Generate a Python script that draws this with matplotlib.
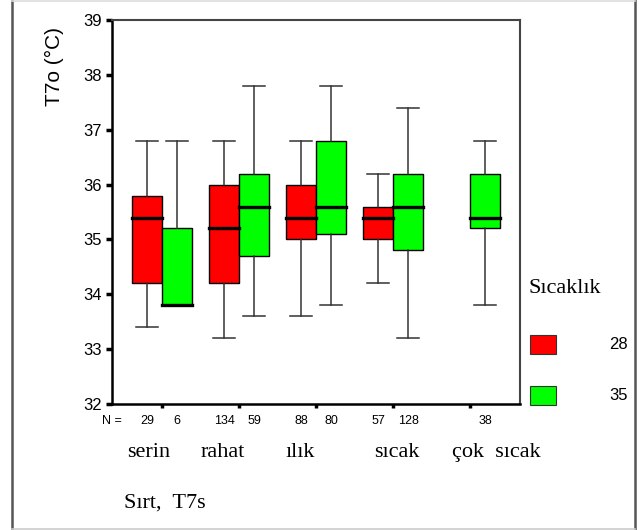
import matplotlib.pyplot as plt
from matplotlib.patches import Rectangle
from matplotlib.lines import Line2D

plt.rcParams['font.family'] = ['Liberation Sans', 'DejaVu Sans']

# kategoriler ve seri adları
categories = ["serin", "rahat", "ılık", "sıcak", "çok  sıcak"]
series = ["28", "35"]
colors = ["#ff0000", "#00ff00"]

# kutu istatistikleri (None = veri yok)
whislo = [[33.4, 33.2, 33.6, 34.2, None],
          [33.8, 33.6, 33.8, 33.2, 33.8]]
q1     = [[34.2, 34.2, 35.0, 35.0, None],
          [33.8, 34.7, 35.1, 34.8, 35.2]]
med    = [[35.4, 35.2, 35.4, 35.4, None],
          [33.8, 35.6, 35.6, 35.6, 35.4]]
q3     = [[35.8, 36.0, 36.0, 35.6, None],
          [35.2, 36.2, 36.8, 36.2, 36.2]]
whishi = [[36.8, 36.8, 36.8, 36.2, None],
          [36.8, 37.8, 37.8, 37.4, 36.8]]
counts = [[29, 134, 88, 57, None],
          [6, 59, 80, 128, 38]]

yticks = [32, 33, 34, 35, 36, 37, 38, 39]

fig = plt.figure(figsize=(6.39, 5.30), dpi=100)
ax = fig.add_axes([0.1753, 0.2377, 0.6385, 0.7245])

width = 0.39
offsets = [-0.195, 0.195]
for s in range(2):
    stats, pos = [], []
    for i in range(len(categories)):
        if med[s][i] is None:
            continue
        stats.append(dict(med=med[s][i], q1=q1[s][i], q3=q3[s][i],
                          whislo=whislo[s][i], whishi=whishi[s][i], fliers=[]))
        pos.append(i + 1 + offsets[s])
        ax.text(i + 1 + offsets[s], -0.044, str(counts[s][i]),
                transform=ax.get_xaxis_transform(), ha='center', va='center',
                fontsize=9)
    ax.bxp(stats, positions=pos, widths=width, capwidths=0.29,
           patch_artist=True, showfliers=False, manage_ticks=False,
           boxprops=dict(facecolor=colors[s], edgecolor='black', linewidth=1.0),
           medianprops=dict(color='black', linewidth=2.4, solid_capstyle='projecting'),
           whiskerprops=dict(color='#333333', linewidth=1.1),
           capprops=dict(color='#333333', linewidth=1.1))

ax.text(0, -0.044, "N =", transform=ax.transAxes, ha='center', va='center', fontsize=9)

# kategori etiketleri (SPSS tarzı kaydırılmış)
label_x = [0.83, 1.79, 2.79, 4.05, 5.34]
for lx, c in zip(label_x, categories):
    ax.text(lx, -0.125, c, transform=ax.get_xaxis_transform(), ha='center',
            va='center', fontsize=16, family='Liberation Serif')

ax.set_xlim(0.35, 5.65)
ax.set_ylim(32, 39)
ax.set_yticks(yticks)
ax.set_xticks(range(1, len(categories) + 1))
ax.set_xticklabels([])
ax.tick_params(axis='y', length=4, width=2.5, pad=3, labelsize=12, direction='out')
ax.tick_params(axis='x', length=3, width=2.5, direction='out')
ax.spines['left'].set_linewidth(1.8)
ax.spines['bottom'].set_linewidth(1.8)
for sp in ['top', 'right']:
    ax.spines[sp].set_color('#444444')
    ax.spines[sp].set_linewidth(1.5)

fig.text(0.0853, 0.8745, "T7o (°C)", rotation=90, ha='center', va='center', fontsize=15)
fig.text(0.194, 0.0509, "Sırt,  T7s", ha='left', va='center', fontsize=16,
         family='Liberation Serif')

# lejant
fig.text(0.8263, 0.4566, "Sıcaklık", ha='left', va='center', fontsize=16,
         family='Liberation Serif')
leg_y = [0.3321, 0.2358]
for s in range(2):
    fig.patches.append(Rectangle((0.8294, leg_y[s]), 0.0407, 0.0351,
                                 transform=fig.transFigure, facecolor=colors[s],
                                 edgecolor='#333333', linewidth=0.8))
    fig.text(0.9828, leg_y[s] + 0.0175, series[s], ha='right', va='center', fontsize=12)

# dış çerçeve
fig.add_artist(Line2D([0.0188, 0.0188], [0.002, 1.0], color='#555555', linewidth=1.8))
fig.add_artist(Line2D([0.9945, 0.9945], [0.002, 1.0], color='#555555', linewidth=1.8))
fig.add_artist(Line2D([0.0188, 0.9945], [0.002, 0.002], color='#cccccc', linewidth=1.2))
fig.add_artist(Line2D([0.0188, 0.9945], [0.999, 0.999], color='#dddddd', linewidth=1.2))

plt.savefig("out.png", dpi=100)
